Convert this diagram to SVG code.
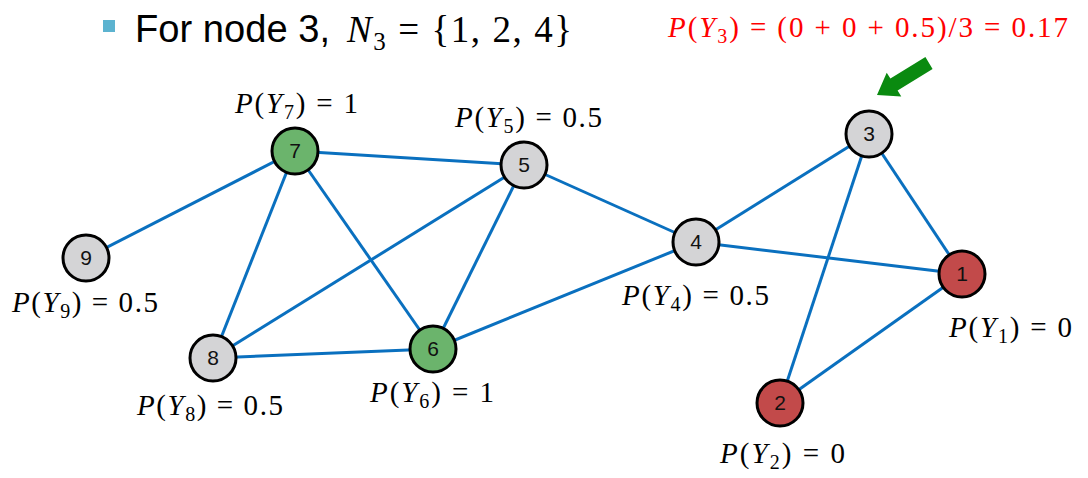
<svg xmlns="http://www.w3.org/2000/svg" width="1088" height="478" viewBox="0 0 1088 478">
<style>
.edge{stroke:#0a70bf;stroke-width:3;fill:none}
.node circle{stroke:#000;stroke-width:3}
.gray{fill:#d4d4d6}
.green{fill:#6bb46c}
.red{fill:#c24a4a}
.num{font-family:"Liberation Sans","DejaVu Sans",sans-serif;font-size:21px;text-anchor:middle;fill:#111}
.lab{font-family:"Liberation Serif","DejaVu Serif",serif;font-size:29px;fill:#000}
.i{font-style:italic}
.sub{font-size:20px}
.title{font-family:"Liberation Sans","DejaVu Sans",sans-serif;font-size:38px;fill:#000}
.math{font-family:"Liberation Serif","DejaVu Serif",serif;font-size:37px;fill:#000}
</style>
<rect width="1088" height="478" fill="#fff"/>
<g id="title">
<rect x="103" y="20" width="12" height="12" fill="#5cb3d0"/>
<text class="title" x="135" y="42" textLength="195" lengthAdjust="spacingAndGlyphs">For node 3,</text>
<text class="math" x="347" y="42" textLength="225" lengthAdjust="spacing"><tspan class="i">N</tspan><tspan font-size="25" dy="8">3</tspan><tspan dy="-8"> = {1, 2, 4}</tspan></text>
</g>
<g id="red-label">
<text class="lab" x="668" y="37" style="fill:#ff0000" textLength="400" lengthAdjust="spacing"><tspan class="i">P</tspan>(<tspan class="i">Y</tspan><tspan class="sub" dy="6">3</tspan><tspan dy="-6">) = (0 + 0 + 0.5)/3 = 0.17</tspan></text>
</g>
<g id="arrow">
<polygon points="932.6,69 925.4,57 890.4,78.6 886.7,72.7 877,95 901.3,96.5 897.6,90.6" fill="#0a8a10"/>
</g>
<g id="connectors">
<line class="edge" x1="295" y1="151" x2="86" y2="258"/>
<line class="edge" x1="295" y1="151" x2="524" y2="165"/>
<line class="edge" x1="295" y1="151" x2="213" y2="358"/>
<line class="edge" x1="295" y1="151" x2="433" y2="349"/>
<line class="edge" x1="524" y1="165" x2="213" y2="358"/>
<line class="edge" x1="524" y1="165" x2="433" y2="349"/>
<line class="edge" x1="524" y1="165" x2="696" y2="242"/>
<line class="edge" x1="213" y1="358" x2="433" y2="349"/>
<line class="edge" x1="696" y1="242" x2="433" y2="349"/>
<line class="edge" x1="696" y1="242" x2="869" y2="134"/>
<line class="edge" x1="696" y1="242" x2="962" y2="274"/>
<line class="edge" x1="869" y1="134" x2="962" y2="274"/>
<line class="edge" x1="869" y1="134" x2="780" y2="403"/>
<line class="edge" x1="962" y1="274" x2="780" y2="403"/>
</g>
<g id="node1" class="node"><circle class="red" cx="962" cy="274" r="23"/><text class="num" x="962" y="281">1</text></g>
<g id="node2" class="node"><circle class="red" cx="780" cy="403" r="23"/><text class="num" x="780" y="410">2</text></g>
<g id="node3" class="node"><circle class="gray" cx="869" cy="134" r="23"/><text class="num" x="869" y="141">3</text></g>
<g id="node4" class="node"><circle class="gray" cx="696" cy="242" r="23"/><text class="num" x="696" y="249">4</text></g>
<g id="node5" class="node"><circle class="gray" cx="524" cy="165" r="23"/><text class="num" x="524" y="172">5</text></g>
<g id="node6" class="node"><circle class="green" cx="433" cy="349" r="23"/><text class="num" x="433" y="356">6</text></g>
<g id="node7" class="node"><circle class="green" cx="295" cy="151" r="23"/><text class="num" x="295" y="158">7</text></g>
<g id="node8" class="node"><circle class="gray" cx="213" cy="358" r="23"/><text class="num" x="213" y="365">8</text></g>
<g id="node9" class="node"><circle class="gray" cx="86" cy="258" r="23"/><text class="num" x="86" y="265">9</text></g>
<g id="labels">
<text class="lab" x="235" y="113" textLength="123" lengthAdjust="spacing"><tspan class="i">P</tspan>(<tspan class="i">Y</tspan><tspan class="sub" dy="6">7</tspan><tspan dy="-6">) = 1</tspan></text>
<text class="lab" x="455" y="127" textLength="147" lengthAdjust="spacing"><tspan class="i">P</tspan>(<tspan class="i">Y</tspan><tspan class="sub" dy="6">5</tspan><tspan dy="-6">) = 0.5</tspan></text>
<text class="lab" x="12" y="312" textLength="146" lengthAdjust="spacing"><tspan class="i">P</tspan>(<tspan class="i">Y</tspan><tspan class="sub" dy="6">9</tspan><tspan dy="-6">) = 0.5</tspan></text>
<text class="lab" x="622" y="305" textLength="147" lengthAdjust="spacing"><tspan class="i">P</tspan>(<tspan class="i">Y</tspan><tspan class="sub" dy="6">4</tspan><tspan dy="-6">) = 0.5</tspan></text>
<text class="lab" x="137" y="415" textLength="146" lengthAdjust="spacing"><tspan class="i">P</tspan>(<tspan class="i">Y</tspan><tspan class="sub" dy="6">8</tspan><tspan dy="-6">) = 0.5</tspan></text>
<text class="lab" x="370" y="402" textLength="124" lengthAdjust="spacing"><tspan class="i">P</tspan>(<tspan class="i">Y</tspan><tspan class="sub" dy="6">6</tspan><tspan dy="-6">) = 1</tspan></text>
<text class="lab" x="949" y="337" textLength="123" lengthAdjust="spacing"><tspan class="i">P</tspan>(<tspan class="i">Y</tspan><tspan class="sub" dy="6">1</tspan><tspan dy="-6">) = 0</tspan></text>
<text class="lab" x="720" y="463" textLength="125" lengthAdjust="spacing"><tspan class="i">P</tspan>(<tspan class="i">Y</tspan><tspan class="sub" dy="6">2</tspan><tspan dy="-6">) = 0</tspan></text>
</g>
</svg>
